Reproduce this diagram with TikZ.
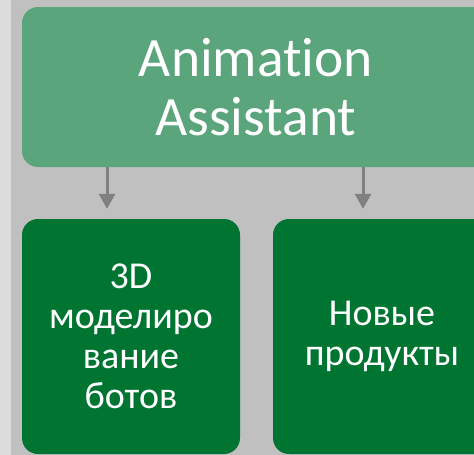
\documentclass[tikz,border=0pt]{standalone}
\usepackage{fontspec}
\setmainfont{Carlito}[Ligatures=NoCommon]
\usetikzlibrary{arrows.meta}

\definecolor{bgGray}{HTML}{C0C0C0}
\definecolor{stripGray}{HTML}{DCDCDC}
\definecolor{topGreen}{HTML}{5AA57C}
\definecolor{subGreen}{HTML}{007532}
\definecolor{arrowGray}{HTML}{808080}

\begin{document}
\begin{tikzpicture}[x=1pt, y=-1pt,
    box/.style={rounded corners=16pt, text=white, align=center, inner sep=0pt},
    subbox/.style={box, fill=subGreen, minimum width=218pt, minimum height=235pt,
        font=\fontsize{38}{40}\selectfont},
    conn/.style={line width=3pt, draw=arrowGray,
        -{Triangle[width=16pt, length=15pt]}, shorten >=10pt}]

    % Background
    \clip (0,0) rectangle (474,455);
    \fill[bgGray] (0,0) rectangle (474,455);
    \fill[stripGray] (0,0) rectangle (11,455);

    % Top box
    \node[box, fill=topGreen, minimum width=468pt, minimum height=160pt,
        font=\fontsize{55.5}{59}\selectfont] (assistant) at (256,87)
        {\raisebox{3pt}{\parbox{300pt}{\centering Animation\\Assistant}}};

    % Lower boxes
    \node[subbox] (models) at (131,336.5) {3D\\моделиро\\вание\\ботов};
    \node[subbox] (products) at (382,336.5) {Новые\\продукты};

    % Arrows
    \coordinate (a1) at (107,0);
    \coordinate (a2) at (363,0);
    \draw[conn] (assistant.south -| a1) -- (models.north -| a1);
    \draw[conn] (assistant.south -| a2) -- (products.north -| a2);

\end{tikzpicture}
\end{document}
